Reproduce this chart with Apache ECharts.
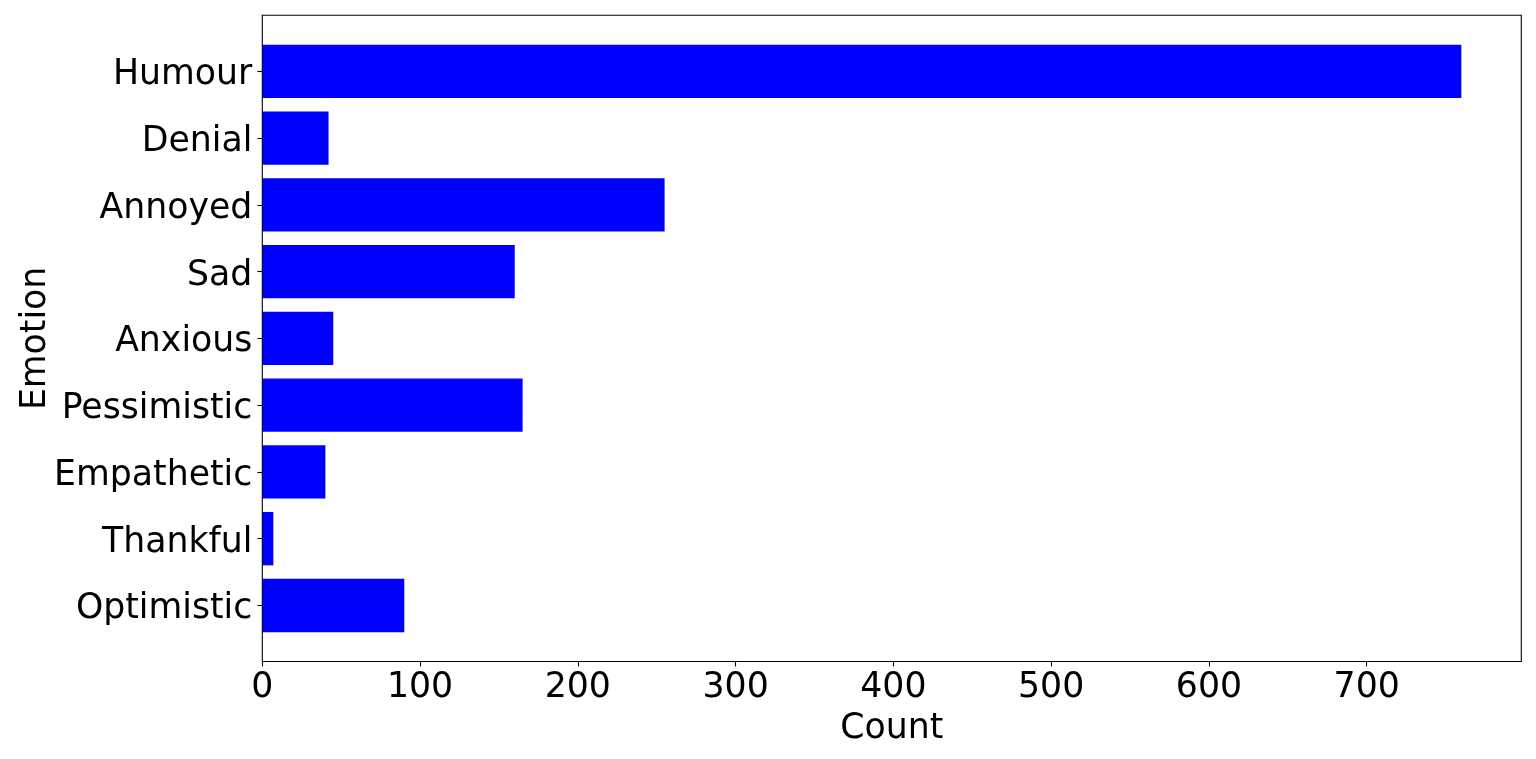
<!DOCTYPE html>
<html>
<head>
<meta charset="utf-8">
<script src="https://cdn.jsdelivr.net/npm/echarts@6/dist/echarts.min.js"></script>
<style>
html,body{margin:0;padding:0;background:#fff;}
#chart{width:1536px;height:759px;}
</style>
</head>
<body>
<div id="chart"></div>
<script>
// Categories listed bottom-to-top (as in the source barh plot)
const emotions = ['Optimistic','Thankful','Empathetic','Pessimistic','Anxious','Sad','Annoyed','Denial','Humour'];
const counts = [90, 7, 40, 165, 45, 160, 255, 42, 760];
const xTicks = [0, 100, 200, 300, 400, 500, 600, 700];
const xMax = 798;

const FONT = 'DejaVu Sans';
const FS = 34.7;

// frame geometry (pixels)
const L = 262.3, R = 1536 - 1521.3, T = 15.3, B = 759 - 661.5;
const frameH = 759 - T - B;
const units = emotions.length + 0.68; // matplotlib margins around 0.8-wide bars
const band = frameH / units;
const pad = (frameH - band * emotions.length) / 2;

const chart = echarts.init(document.getElementById('chart'));
chart.setOption({
  animation: false,
  backgroundColor: '#fff',
  grid: [
    {left: L, right: R, top: T, bottom: B, show: true, borderColor: '#000', borderWidth: 1.1, backgroundColor: 'transparent', z: 5},
    {left: L, right: R, top: T + pad, bottom: B + pad}
  ],
  xAxis: [
    {gridIndex: 0, show: false, min: 0, max: 1},
    {
      gridIndex: 1, type: 'value', min: 0, max: xMax, interval: 100, offset: pad,
      axisLine: {show: false},
      splitLine: {show: false},
      axisTick: {show: true, length: 4.9, lineStyle: {color: '#000', width: 1.1}, customValues: xTicks},
      axisLabel: {color: '#000', fontFamily: FONT, fontSize: FS, margin: 9, customValues: xTicks},
      name: 'Count', nameLocation: 'middle', nameGap: 50, nameMoveOverlap: false,
      nameTextStyle: {color: '#000', fontFamily: FONT, fontSize: FS}
    }
  ],
  yAxis: [
    {gridIndex: 0, show: false, min: 0, max: 1},
    {
      gridIndex: 1, type: 'category', data: emotions,
      axisLine: {show: false},
      axisTick: {show: true, alignWithLabel: true, length: 4.9, lineStyle: {color: '#000', width: 1.1}},
      axisLabel: {
        color: '#000', fontFamily: FONT, fontSize: FS, margin: 10,
        formatter: v => '{a|' + v + '}',
        rich: {a: {color: '#000', fontFamily: FONT, fontSize: FS, padding: [8, 0, 0, 0]}}
      },
      name: 'Emotion', nameLocation: 'middle', nameGap: 209, nameRotate: 90, nameMoveOverlap: false,
      nameTextStyle: {color: '#000', fontFamily: FONT, fontSize: FS}
    }
  ],
  series: [{
    type: 'bar', xAxisIndex: 1, yAxisIndex: 1,
    data: counts, barWidth: '80%',
    itemStyle: {color: '#0000ff'}
  }]
});
</script>
</body>
</html>
